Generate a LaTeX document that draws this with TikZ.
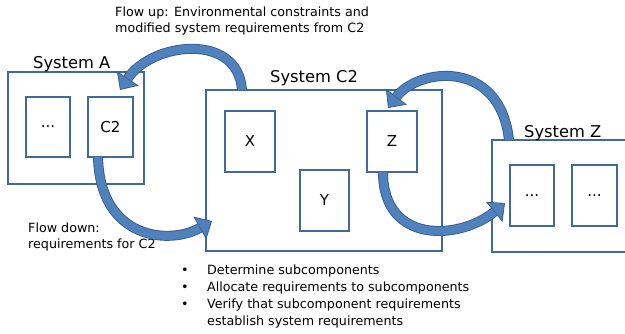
\documentclass[tikz,border=0pt]{standalone}
\usepackage{fontspec}
\setmainfont{DejaVu Sans}
\usetikzlibrary{arrows.meta}

\definecolor{boxblue}{RGB}{65,105,155}
\definecolor{arrowfill}{RGB}{79,129,189}
\definecolor{arrowline}{RGB}{56,93,138}

\tikzset{
	box/.style={draw=boxblue, line width=1.3pt, inner sep=0pt, outer sep=0pt, font=\fontsize{15}{18}\selectfont},
	syslabel/.style={anchor=base west, inner sep=0pt, font=\fontsize{16.3}{18}\selectfont},
	note/.style={anchor=base west, inner sep=0pt, font=\fontsize{12.7}{17}\selectfont},
	flowedge/.style={draw=arrowline, line width=10pt, -{Triangle[length=14pt, width=26pt, line width'=0.8pt, fill=arrowfill]}},
	flowbody/.style={draw=arrowfill, line width=8.2pt, shorten >=14pt}
}

\newcommand{\flowarrow}[1]{%
	\draw[flowedge] #1;
	\draw[flowbody] #1;}

\begin{document}
\begin{tikzpicture}[x=1pt, y=-1pt]
	\useasboundingbox (0,0) rectangle (625,334);

	% outer systems
	\node[box, minimum width=136pt, minimum height=112pt] (sysA) at (76,128) {};
	\node[box, minimum width=236pt, minimum height=161pt] (sysC) at (324,170.5) {};
	\node[box, minimum width=142pt, minimum height=112pt] (sysZ) at (563,196) {};

	\node[syslabel] (labA) at (33,69) {System A};
	\node[syslabel] (labC) at (270,83) {System C2};
	\node[syslabel] (labZ) at (524,138) {System Z};

	% components
	\node[box, minimum width=44pt, minimum height=60pt] (aDots) at (48,127) {...};
	\node[box, minimum width=45pt, minimum height=60pt] (aC2) at (110.5,127) {C2};

	\node[box, minimum width=50pt, minimum height=61pt] (cX) at (250,141.5) {X};
	\node[box, minimum width=49pt, minimum height=61pt] (cY) at (324.5,200.5) {Y};
	\node[box, minimum width=50pt, minimum height=61pt] (cZ) at (392,141.5) {Z};

	\node[box, minimum width=44pt, minimum height=61pt] (zDots1) at (532,195.5) {...};
	\node[box, minimum width=45pt, minimum height=61pt] (zDots2) at (594.5,195.5) {...};

	% texts
	\node[note] (up1) at (115,17) {Flow up: Environmental constraints and};
	\node[note] (up2) at (115,33) {modified system requirements from C2};
	\node[note] (down1) at (28,233) {Flow down:};
	\node[note] (down2) at (28,249) {requirements for C2};

	\foreach \i/\txt in {1/Determine subcomponents, 2/Allocate requirements to subcomponents, 3/Verify that subcomponent requirements}{
		\node[note] (bul\i) at (181,258+17*\i) {•};
		\node[note] (task\i) at (207,258+17*\i) {\txt};
	}
	\node[note] (task4) at (207,326) {establish system requirements};

	% flow arrows
	\coordinate (upAtail) at ([xshift=36pt]sysC.north west);
	\coordinate (upAhead) at ([xshift=-13pt, yshift=7pt]aC2.north east);
	\coordinate (downCtail) at ([xshift=10pt]aC2.south west);
	\coordinate (downChead) at ([xshift=6pt, yshift=30pt]sysC.south west);
	\coordinate (upZtail) at ([xshift=17pt]sysZ.north west);
	\coordinate (upZhead) at ([xshift=-4pt, yshift=3pt]cZ.north);
	\coordinate (downZtail) at ([xshift=16pt]cZ.south west);
	\coordinate (downZhead) at ([xshift=-5pt, yshift=-7.5pt]zDots1.west);

	\flowarrow{(upAtail) .. controls (238,32) and (152,42) .. (upAhead)}
	\flowarrow{(downCtail) .. controls (100,240) and (170,245) .. (downChead)}
	\flowarrow{(upZtail) .. controls (500,58) and (418,68) .. (upZhead)}
	\flowarrow{(downZtail) .. controls (383,245) and (460,240) .. (downZhead)}
\end{tikzpicture}
\end{document}
